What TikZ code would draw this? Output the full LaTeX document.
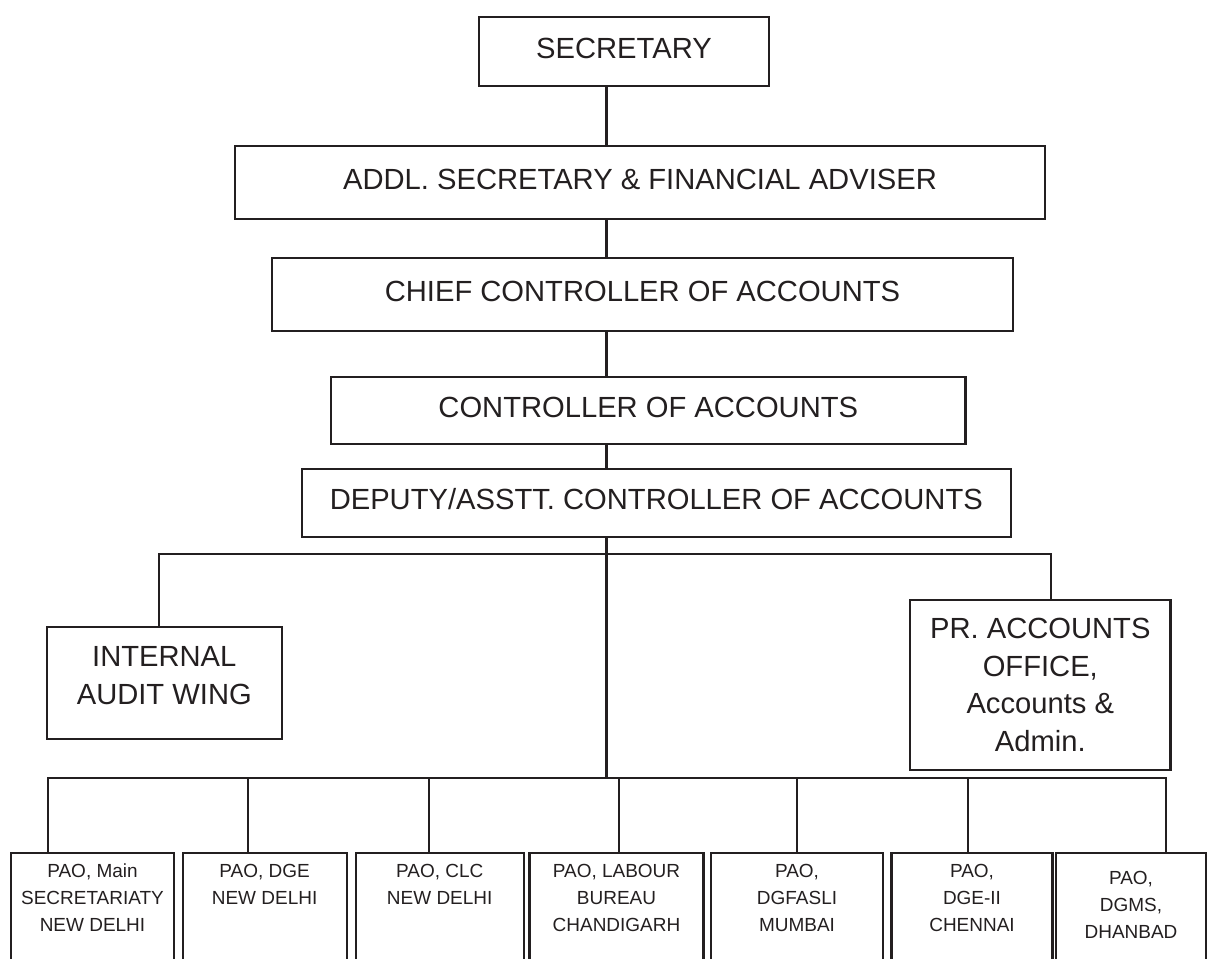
\documentclass[tikz,border=0pt]{standalone}
\usepackage{fontspec}
\setmainfont{Liberation Sans}
\definecolor{ink}{HTML}{231F20}
\newcommand{\paotext}[2][0cm]{\parbox[t][2.4cm][t]{3cm}{\centering\vspace*{#1}#2}}
\begin{document}
\begin{tikzpicture}[x=0.02cm, y=-0.02cm, color=ink, line width=1.2pt, line join=miter, line cap=rect,
    box/.style={draw, inner sep=0pt, align=center, font=\fontsize{16.6}{21.3}\selectfont},
    onebox/.style={box, text height=11.9pt, text depth=4pt},
    paobox/.style={draw, anchor=north, inner xsep=0pt, inner ysep=0.22cm, font=\fontsize{10.8}{15.4}\selectfont}]
    \useasboundingbox (0,0) rectangle (1208,958);
    \node[onebox, minimum width=5.8cm, minimum height=1.38cm] (sec) at (624,51.2) {SECRETARY};
    \node[onebox, minimum width=16.2cm, minimum height=1.454cm] (addl) at (640,182.3) {ADDL. SECRETARY \& FINANCIAL ADVISER};
    \node[onebox, minimum width=14.82cm, minimum height=1.46cm] (chief) at (642.5,294.5) {CHIEF CONTROLLER OF ACCOUNTS};
    \node[onebox, minimum width=12.69cm, minimum height=1.346cm] (ctrl) at (648.3,410.3) {CONTROLLER OF ACCOUNTS};
    \node[onebox, minimum width=14.19cm, minimum height=1.354cm] (dep) at (656.3,502.8) {DEPUTY/ASSTT. CONTROLLER OF ACCOUNTS};
    \node[box, minimum width=4.71cm, minimum height=2.25cm] (iaw) at (164.3,682.8)
        {\parbox[c][2.25cm][t]{4.5cm}{\centering\vspace*{0.4cm}INTERNAL\\AUDIT WING}};
    \node[box, minimum width=5.21cm, minimum height=3.4cm] (pr) at (1040.3,685) {PR. ACCOUNTS\\OFFICE,\\Accounts \&\\Admin.};

    \node[paobox, minimum width=3.26cm] (p1) at (92.5,852) {\paotext{PAO, Main\\SECRETARIATY\\NEW DELHI}};
    \node[paobox, minimum width=3.28cm] (p2) at (264.6,852) {\paotext{PAO, DGE\\NEW DELHI}};
    \node[paobox, minimum width=3.36cm] (p3) at (439.7,852) {\paotext{PAO, CLC\\NEW DELHI}};
    \node[paobox, minimum width=3.48cm] (p4) at (616.5,852) {\paotext{PAO, LABOUR\\BUREAU\\CHANDIGARH}};
    \node[paobox, minimum width=3.44cm] (p5) at (797,852) {\paotext{PAO,\\DGFASLI\\MUMBAI}};
    \node[paobox, minimum width=3.22cm] (p6) at (972,852) {\paotext{PAO,\\DGE-II\\CHENNAI}};
    \node[paobox, minimum width=2.9cm] (p7) at (1131,852) {\paotext[0.14cm]{PAO,\\DGMS,\\DHANBAD}};

    \coordinate (spine) at (606.5,0);
    \coordinate (k1) at (159.3,554);
    \coordinate (k2) at (1051,554);
    \coordinate (j1) at (48,778);
    \coordinate (j2) at (248,778);
    \coordinate (j3) at (429,778);
    \coordinate (j4) at (618.6,778);
    \coordinate (j5) at (797,778);
    \coordinate (j6) at (968,778);
    \coordinate (j7) at (1165.7,778);

    \draw (sec.south -| spine) -- (addl.north -| spine);
    \draw (addl.south -| spine) -- (chief.north -| spine);
    \draw (chief.south -| spine) -- (ctrl.north -| spine);
    \draw (ctrl.south -| spine) -- (dep.north -| spine);
    \draw (dep.south -| spine) -- (spine |- j1);
    \draw (iaw.north -| k1) -- (k1) -- (k2) -- (pr.north -| k2);
    \draw (j1) -- (j7);
    \foreach \i in {1,...,7}
        \draw (j\i) -- (j\i |- p\i.north);
\end{tikzpicture}
\end{document}
